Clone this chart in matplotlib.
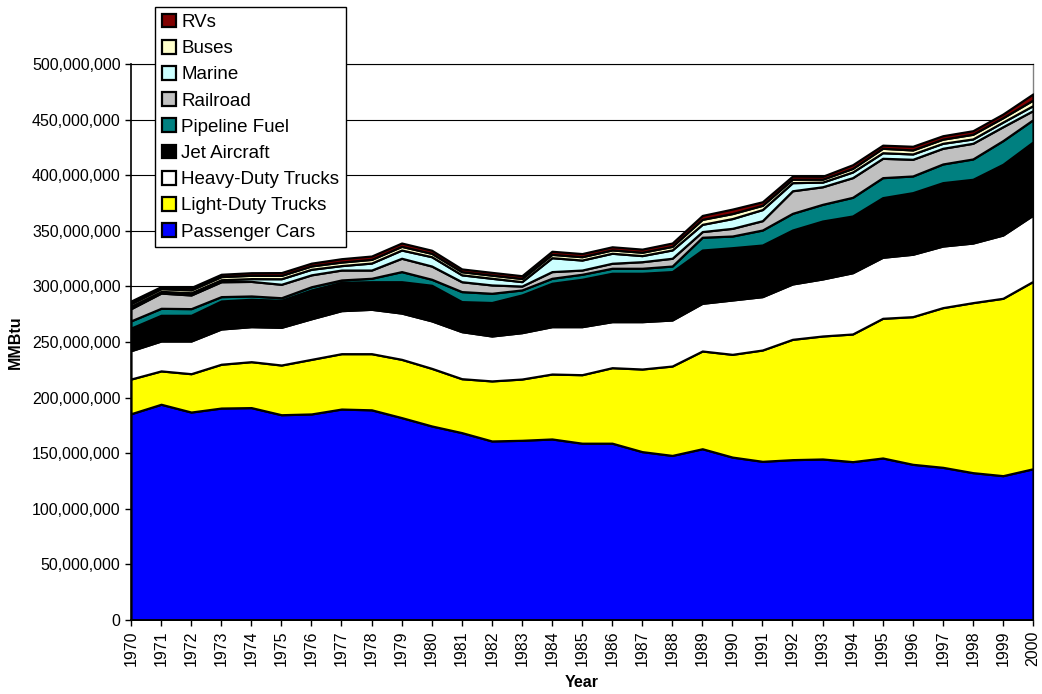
import matplotlib
matplotlib.use("Agg")
import matplotlib.pyplot as plt
from matplotlib.ticker import FuncFormatter, MultipleLocator

years = list(range(1970, 2001))

# Values in millions of MMBtu
passenger_cars = [185.5, 194.0, 187.0, 190.6, 191.0, 184.6, 185.3, 189.7, 189.0, 182.0,
                  174.5, 168.5, 161.0, 161.6, 162.8, 159.0, 159.0, 151.4, 148.0, 154.0,
                  146.5, 142.7, 144.2, 144.8, 142.4, 145.7, 140.0, 137.3, 132.5, 129.8, 136.0]
light_duty_trucks = [31.2, 30.0, 34.5, 39.4, 41.3, 44.7, 49.1, 49.8, 50.5, 52.4,
                     51.8, 48.5, 54.0, 55.1, 58.4, 61.6, 67.9, 74.3, 80.4, 87.9,
                     92.4, 100.1, 108.2, 110.6, 114.8, 125.6, 132.8, 143.6, 152.9, 159.5, 168.5]
heavy_duty_trucks = [25.5, 26.9, 29.4, 31.7, 31.5, 33.9, 36.5, 38.7, 39.9, 41.6,
                     42.7, 42.3, 40.4, 41.7, 42.6, 43.2, 41.4, 42.6, 41.4, 42.9,
                     48.9, 48.0, 49.8, 51.3, 55.1, 54.9, 56.1, 55.4, 53.6, 56.9, 59.6]
jet_aircraft = [20.3, 23.1, 23.1, 25.2, 24.6, 24.3, 25.9, 25.5, 24.8, 28.2,
                32.0, 27.0, 30.1, 33.9, 39.0, 42.6, 43.5, 43.5, 43.5, 47.9,
                47.0, 46.4, 48.5, 52.1, 51.0, 53.6, 55.4, 57.0, 57.3, 63.6, 65.8]
pipeline_fuel = [6.5, 6.3, 6.0, 3.9, 3.0, 2.3, 2.9, 2.1, 3.1, 9.1,
                 5.4, 9.0, 8.3, 4.5, 4.5, 4.5, 4.5, 4.5, 5.0, 11.5,
                 10.5, 13.5, 15.0, 15.0, 16.8, 18.0, 15.0, 16.8, 18.3, 21.3, 20.0]
railroad = [11.0, 13.7, 12.3, 13.4, 13.1, 12.1, 10.7, 8.9, 7.4, 12.0,
            11.9, 8.9, 7.5, 3.5, 6.0, 3.8, 4.5, 5.9, 7.0, 5.1,
            6.9, 8.4, 20.3, 15.8, 17.7, 17.4, 15.0, 14.1, 14.1, 12.5, 8.2]
marine = [2.2, 1.5, 2.0, 1.8, 2.5, 5.0, 5.0, 4.0, 6.3, 7.4,
          8.4, 6.2, 6.0, 4.0, 12.5, 9.0, 9.0, 5.5, 7.5, 6.5,
          8.8, 10.0, 7.3, 4.2, 5.1, 5.0, 4.8, 4.5, 3.9, 4.2, 4.5]
buses = [2.4, 2.5, 2.6, 2.8, 3.0, 3.0, 3.0, 3.2, 3.3, 3.3,
         3.0, 2.8, 2.8, 2.8, 3.0, 3.0, 3.0, 3.0, 3.2, 4.5,
         4.5, 3.8, 3.1, 2.6, 3.2, 4.0, 3.6, 3.7, 4.2, 3.9, 5.0]
rvs = [2.2, 1.8, 2.1, 2.1, 2.3, 2.5, 2.5, 3.0, 3.0, 3.0,
       2.8, 2.5, 2.5, 2.5, 2.8, 2.8, 2.8, 2.8, 3.0, 3.5,
       4.0, 3.2, 2.8, 2.6, 3.3, 2.8, 3.3, 3.1, 3.2, 3.3, 5.5]

labels = ["Passenger Cars", "Light-Duty Trucks", "Heavy-Duty Trucks", "Jet Aircraft",
          "Pipeline Fuel", "Railroad", "Marine", "Buses", "RVs"]
colors = ["#0000FF", "#FFFF00", "#FFFFFF", "#000000", "#008080",
          "#C0C0C0", "#CCFFFF", "#FFFFCC", "#800000"]
series = [passenger_cars, light_duty_trucks, heavy_duty_trucks, jet_aircraft,
          pipeline_fuel, railroad, marine, buses, rvs]
scale = 1e6

plt.rcParams['font.family'] = ['Liberation Sans', 'DejaVu Sans']

fig = plt.figure(figsize=(10.42, 6.94), dpi=100)
ax = fig.add_axes([131/1042, 1-620/694, (1033-131)/1042, (620-64)/694])

data = [[v * scale for v in s] for s in series]
polys = ax.stackplot(years, *data, labels=labels, colors=colors,
                     edgecolor="black", linewidth=1.6, zorder=3)

ax.set_xlim(1970, 2000)
ax.set_ylim(0, 500e6)
ax.yaxis.set_major_locator(MultipleLocator(50e6))
ax.yaxis.set_major_formatter(FuncFormatter(lambda v, p: f"{v:,.0f}"))
ax.set_xticks(years)
ax.set_xticklabels([str(y) for y in years], rotation=90, fontsize=11.5)
ax.tick_params(axis='y', labelsize=11.5, direction='out', length=4, width=1)
ax.tick_params(axis='x', direction='out', length=4, width=1)
ax.grid(axis='y', color='#000000', linewidth=0.8, zorder=0)
ax.set_axisbelow(True)

ax.spines['top'].set_color('black')
ax.spines['top'].set_linewidth(0.8)
ax.spines['right'].set_color('#808080')
ax.spines['right'].set_linewidth(1)
for side in ['left', 'bottom']:
    ax.spines[side].set_color('black')
    ax.spines[side].set_linewidth(1.2)
    ax.spines[side].set_zorder(5)

ax.set_ylabel("MMBtu", fontsize=11.5, fontweight='bold')
ax.set_xlabel("Year", fontsize=11.5, fontweight='bold')
ax.yaxis.set_label_coords(-108/902, 0.5)
ax.xaxis.set_label_coords(0.5, -55/556)

handles = polys[::-1]
leg = fig.legend(handles, labels[::-1], loc='upper left',
                 bbox_to_anchor=(155/1042, 1-7/694), borderaxespad=0,
                 fontsize=13.5, frameon=True, fancybox=False, framealpha=1,
                 edgecolor='black', handlelength=0.75, handleheight=0.75,
                 handletextpad=0.3, labelspacing=0.47, borderpad=0.35)
leg.get_frame().set_linewidth(1.0)

fig.savefig("out.png", dpi=100)
